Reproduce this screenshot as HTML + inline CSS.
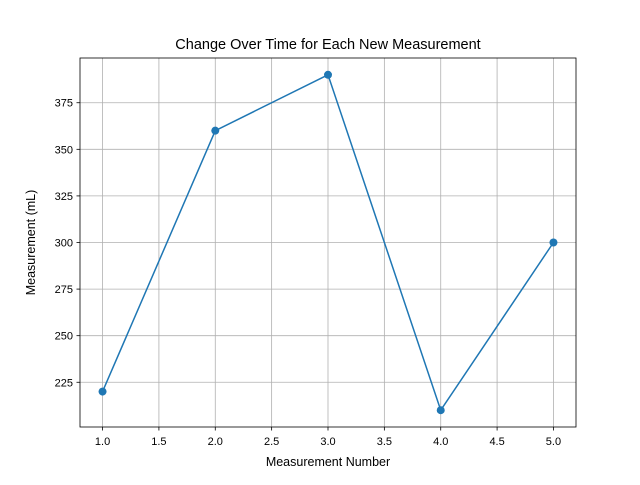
<!DOCTYPE html>
<html><head><meta charset="utf-8"><style>body{margin:0;background:#fff}svg{font-family:"Liberation Sans","DejaVu Sans",sans-serif}</style></head>
<body>
<svg id="c" width="640" height="480" xmlns="http://www.w3.org/2000/svg"></svg>
<script>
const categories=[1,2,3,4,5];
const values=[220,360,390,210,300];
const xTicks=[1.0,1.5,2.0,2.5,3.0,3.5,4.0,4.5,5.0];
const yTicks=[225,250,275,300,325,350,375];
const L=80,R=576,T=58,B=427;
const xmin=0.8,xmax=5.2,ymin=201,ymax=399;
const sx=v=>L+(v-xmin)/(xmax-xmin)*(R-L);
const sy=v=>B-(v-ymin)/(ymax-ymin)*(B-T);
const svg=document.getElementById('c');
const NS='http://www.w3.org/2000/svg';
function mk(t,a,p){const e=document.createElementNS(NS,t);for(const k in a)e.setAttribute(k,a[k]);(p||svg).appendChild(e);return e;}
let e;
xTicks.forEach(v=>{const x=sx(v);
e=mk('line',{x1:x,x2:x,y1:T,y2:B,stroke:'#b0b0b0','stroke-width':0.8});


e=mk('line',{x1:x,x2:x,y1:B,y2:B+3.5,stroke:'#000','stroke-width':0.8});


e=mk('text',{x:x,y:B+18,'text-anchor':'middle','font-size':11});e.textContent=v.toFixed(1);


});
yTicks.forEach(v=>{const y=sy(v);
e=mk('line',{x1:L,x2:R,y1:y,y2:y,stroke:'#b0b0b0','stroke-width':0.8});


e=mk('line',{x1:L-3.5,x2:L,y1:y,y2:y,stroke:'#000','stroke-width':0.8});


e=mk('text',{x:L-7,y:y+4,'text-anchor':'end','font-size':11});e.textContent=v;


});
e=mk('polyline',{points:categories.map((c,i)=>sx(c)+','+sy(values[i])).join(' '),fill:'none',stroke:'#1f77b4','stroke-width':1.5});


categories.forEach((c,i)=>{e=mk('circle',{cx:sx(c),cy:sy(values[i]),r:4,fill:'#1f77b4'});

});
e=mk('rect',{x:L,y:T,width:R-L,height:B-T,fill:'none',stroke:'#000','stroke-width':0.8});


e=mk('text',{x:(L+R)/2,y:T-9,'text-anchor':'middle','font-size':14.5});e.textContent='Change Over Time for Each New Measurement';


e=mk('text',{x:(L+R)/2,y:B+39,'text-anchor':'middle','font-size':12.5});e.textContent='Measurement Number';


e=mk('text',{x:35,y:(T+B)/2,'text-anchor':'middle','font-size':12.5,transform:'rotate(-90 35 '+(T+B)/2+')'});e.textContent='Measurement (mL)';


</script>
</body></html>
